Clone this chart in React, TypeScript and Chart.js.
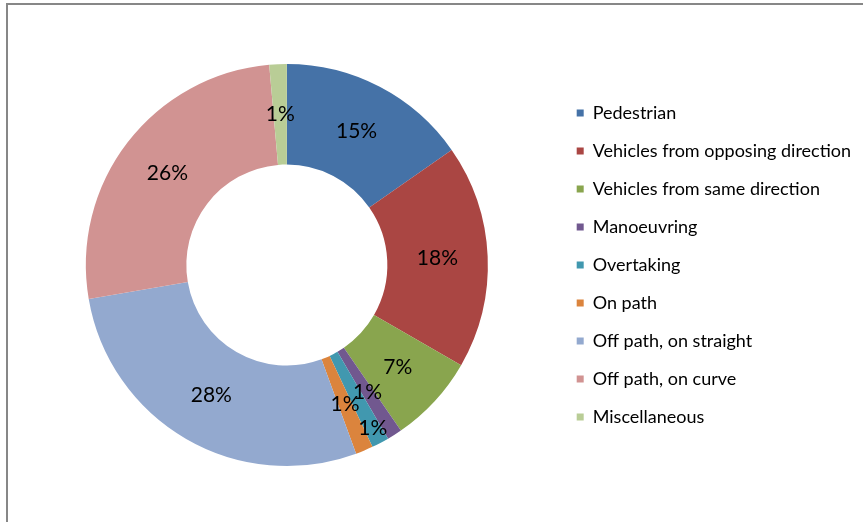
import React, { useEffect, useRef } from 'react';
import { Chart, registerables } from 'chart.js';

Chart.register(...registerables);

const categories = [
  'Pedestrian',
  'Vehicles from opposing direction',
  'Vehicles from same direction',
  'Manoeuvring',
  'Overtaking',
  'On path',
  'Off path, on straight',
  'Off path, on curve',
  'Miscellaneous',
];
const shares = [15.3, 18.0, 7.1, 1.2, 1.4, 1.4, 27.9, 26.3, 1.4];
const sliceColors = [
  '#4572A7',
  '#AA4643',
  '#89A54E',
  '#71588F',
  '#4198AF',
  '#DB843D',
  '#93A9CF',
  '#D19392',
  '#B9CD96',
];

const LABEL_FONT_SIZE = 21;
const FONT_FAMILY = 'Lato, "Open Sans", sans-serif';

const sliceLabelPlugin = {
  id: 'sliceLabels',
  afterDatasetsDraw(chart: any) {
    const ctx = chart.ctx as CanvasRenderingContext2D;
    const meta = chart.getDatasetMeta(0);
    const data = chart.data.datasets[0].data as number[];
    const total = data.reduce((a, b) => a + b, 0);
    ctx.save();
    ctx.font = `${LABEL_FONT_SIZE}px ${FONT_FAMILY}`;
    ctx.fillStyle = '#000';
    ctx.textAlign = 'center';
    ctx.textBaseline = 'middle';
    let prev: { x: number; y: number; w: number } | null = null;
    const h = LABEL_FONT_SIZE;
    meta.data.forEach((arc: any, i: number) => {
      const p = arc.getProps(['x', 'y', 'startAngle', 'endAngle', 'innerRadius', 'outerRadius'], true);
      const mid = (p.startAngle + p.endAngle) / 2;
      let r = (p.innerRadius + p.outerRadius) / 2;
      const text = Math.round((data[i] / total) * 100) + '%';
      const w = ctx.measureText(text).width;
      let px = p.x + Math.cos(mid) * r;
      let py = p.y + Math.sin(mid) * r;
      const overlaps = (gap: number) =>
        prev !== null &&
        Math.abs(px - prev.x) < (w + prev.w) / 2 &&
        Math.abs(py - prev.y) < gap;
      if (overlaps(h)) {
        let guard = 0;
        while (overlaps(h * 1.7) && guard < 80) {
          r += 1;
          px = p.x + Math.cos(mid) * r;
          py = p.y + Math.sin(mid) * r;
          guard++;
        }
      }
      ctx.fillText(text, px, py);
      prev = { x: px, y: py, w };
    });
    ctx.restore();
  },
};

export default function App() {
  const canvasRef = useRef<HTMLCanvasElement | null>(null);

  useEffect(() => {
    if (!canvasRef.current) return;
    const chart = new Chart(canvasRef.current, {
      type: 'doughnut',
      data: {
        labels: categories,
        datasets: [
          {
            data: shares,
            backgroundColor: sliceColors,
            borderWidth: 0,
            hoverOffset: 0,
          },
        ],
      },
      options: {
        animation: false,
        responsive: false,
        devicePixelRatio: 1,
        cutout: '50%',
        layout: {
          padding: { left: 17, right: 2, top: 64, bottom: 56 },
        },
        plugins: {
          tooltip: { enabled: false },
          legend: {
            display: true,
            position: 'right',
            align: 'center',
            labels: {
              boxWidth: 7,
              boxHeight: 7,
              padding: 20,
              color: '#000',
              font: { family: FONT_FAMILY, size: 18, lineHeight: 1.2 },
            },
          },
        },
      },
      plugins: [sliceLabelPlugin],
    });
    return () => chart.destroy();
  }, []);

  return (
    <div
      style={{
        position: 'fixed',
        left: 0,
        top: 0,
        width: 863,
        height: 522,
        overflow: 'hidden',
        background: '#fff',
      }}
    >
      <div
        style={{
          position: 'absolute',
          left: 6,
          top: 3,
          width: 900,
          height: 600,
          border: '2px solid #878787',
          boxSizing: 'border-box',
        }}
      />
      <canvas
        ref={canvasRef}
        width={863}
        height={522}
        style={{ position: 'absolute', left: 0, top: 0, width: 863, height: 522 }}
      />
    </div>
  );
}
